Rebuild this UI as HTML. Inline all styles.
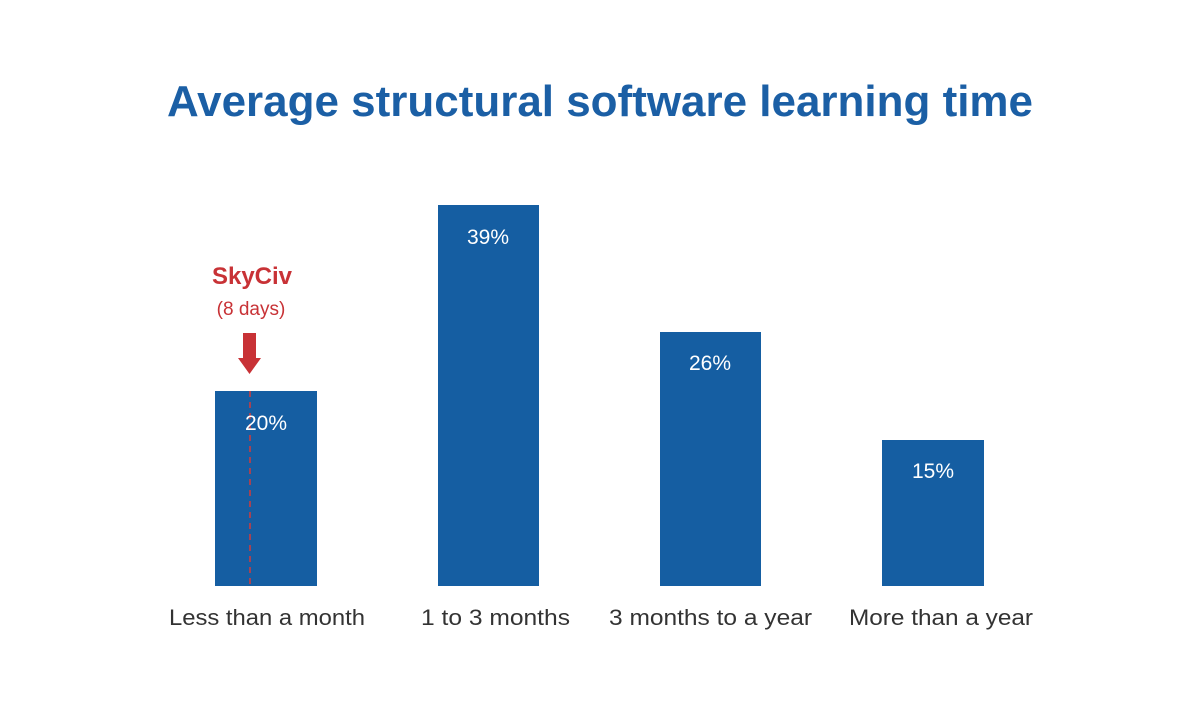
<!DOCTYPE html>
<html><head><meta charset="utf-8"><style>
body{margin:0;background:#fff;}
</style></head><body>
<svg width="1200" height="700" xmlns="http://www.w3.org/2000/svg" font-family="Liberation Sans, sans-serif">
<rect width="1200" height="700" fill="#fff"/>
<text x="600" y="116" text-anchor="middle" font-size="44" font-weight="bold" fill="#1b5fa5" textLength="866" lengthAdjust="spacingAndGlyphs">Average structural software learning time</text>
<g fill="#155ea2">
<rect x="215" y="391" width="102" height="195"/>
<rect x="438" y="205" width="101" height="381"/>
<rect x="660" y="332" width="101" height="254"/>
<rect x="882" y="440" width="102" height="146"/>
</g>
<line x1="250" y1="391" x2="250" y2="586" stroke="#d33a3a" stroke-width="1.5" stroke-dasharray="6,5"/>
<g fill="#fff" font-size="21" text-anchor="middle">
<text x="266" y="430">20%</text>
<text x="488" y="244">39%</text>
<text x="710" y="370">26%</text>
<text x="933" y="478">15%</text>
</g>
<g fill="#333" font-size="22">
<text x="169" y="625" textLength="196" lengthAdjust="spacingAndGlyphs">Less than a month</text>
<text x="421" y="625" textLength="149" lengthAdjust="spacingAndGlyphs">1 to 3 months</text>
<text x="609" y="625" textLength="203" lengthAdjust="spacingAndGlyphs">3 months to a year</text>
<text x="849" y="625" textLength="184" lengthAdjust="spacingAndGlyphs">More than a year</text>
</g>
<text x="252" y="284" text-anchor="middle" font-size="24" font-weight="bold" fill="#c83236">SkyCiv</text>
<text x="251" y="315" text-anchor="middle" font-size="19" fill="#c83236">(8 days)</text>
<rect x="243" y="333" width="13" height="26" fill="#c83236"/>
<polygon points="238,358 261,358 249.5,374" fill="#c83236"/>
</svg>
</body></html>
